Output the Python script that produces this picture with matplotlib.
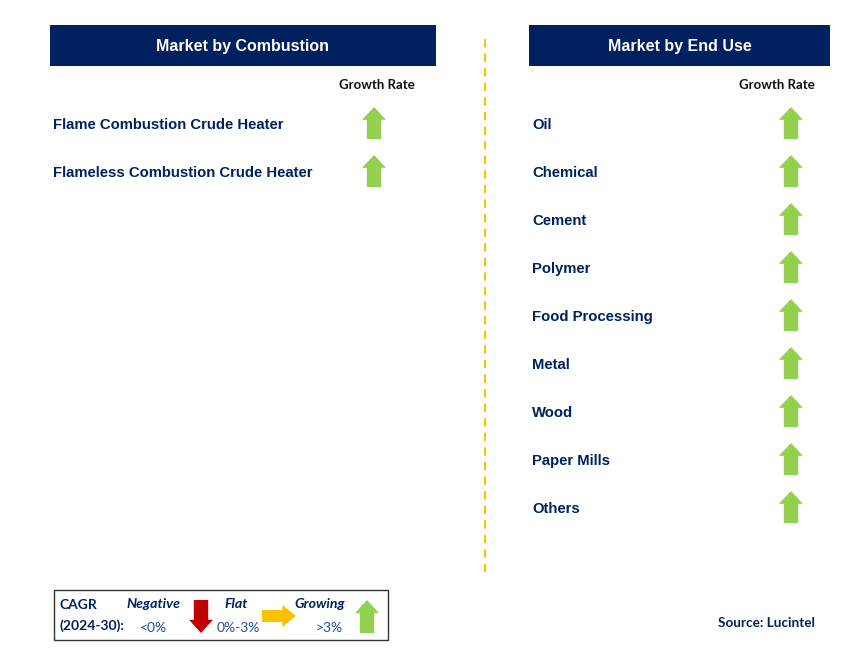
import matplotlib.pyplot as plt
from matplotlib.patches import Rectangle, Polygon

# segments and their growth class (all growing)
combustion = ['Flame Combustion Crude Heater', 'Flameless Combustion Crude Heater']
combustion_growth = ['up', 'up']
end_use = ['Oil', 'Chemical', 'Cement', 'Polymer', 'Food Processing',
           'Metal', 'Wood', 'Paper Mills', 'Others']
end_use_growth = ['up'] * 9

navy = '#002060'
green = '#92D050'
red = '#C00000'
yellow = '#FFC000'


def up_arrow(ax, xc, ytop, h=32, w=24, color=green):
    sh = w * 0.3
    hh = h * 0.4
    pts = [(xc, ytop), (xc + w / 2, ytop + hh), (xc + sh, ytop + hh),
           (xc + sh, ytop + h), (xc - sh, ytop + h), (xc - sh, ytop + hh),
           (xc - w / 2, ytop + hh)]
    ax.add_patch(Polygon(pts, closed=True, color=color, lw=0))


def down_arrow(ax, xc, ytop, h=32, w=24, color=red):
    sh = w * 0.3
    hh = h * 0.4
    yb = ytop + h
    pts = [(xc, yb), (xc + w / 2, yb - hh), (xc + sh, yb - hh),
           (xc + sh, ytop), (xc - sh, ytop), (xc - sh, yb - hh),
           (xc - w / 2, yb - hh)]
    ax.add_patch(Polygon(pts, closed=True, color=color, lw=0))


def right_arrow(ax, xl, yc, w=34, h=22, color=yellow):
    sh = h * 0.27
    hw = w * 0.4
    xr = xl + w
    pts = [(xr, yc), (xr - hw, yc - h / 2), (xr - hw, yc - sh), (xl, yc - sh),
           (xl, yc + sh), (xr - hw, yc + sh), (xr - hw, yc + h / 2)]
    ax.add_patch(Polygon(pts, closed=True, color=color, lw=0))


fig = plt.figure(figsize=(8.6, 6.6), dpi=100)
ax = fig.add_axes([0, 0, 1, 1])
ax.set_xlim(0, 860)
ax.set_ylim(660, 0)
ax.axis('off')

lab_font = 'Liberation Sans'
cal_font = 'Lato'

# headers
ax.add_patch(Rectangle((50, 25), 386, 41, color=navy, lw=0))
ax.text(243, 46, 'Market by Combustion', color='white', fontsize=11.5,
        fontweight='bold', ha='center', va='center', family=lab_font)
ax.add_patch(Rectangle((529, 25), 301, 41, color=navy, lw=0))
ax.text(679.5, 46, 'Market by End Use', color='white', fontsize=11.5,
        fontweight='bold', ha='center', va='center', family=lab_font)

ax.text(377, 85, 'Growth Rate', fontsize=9.5, fontweight='bold', ha='center',
        va='center', family=cal_font, color='#111111')
ax.text(777, 85, 'Growth Rate', fontsize=9.5, fontweight='bold', ha='center',
        va='center', family=cal_font, color='#111111')

# divider
ax.plot([485, 485], [39, 578], color=yellow, lw=1.5, ls=(0, (4, 3)))

y0, dy = 125, 48
for i, (name, g) in enumerate(zip(combustion, combustion_growth)):
    y = y0 + i * dy
    ax.text(53, y, name, color=navy, fontsize=10.7, fontweight='bold',
            va='center', family=lab_font)
    up_arrow(ax, 374, y - 18)

for i, (name, g) in enumerate(zip(end_use, end_use_growth)):
    y = y0 + i * dy
    ax.text(532, y, name, color=navy, fontsize=10.7, fontweight='bold',
            va='center', family=lab_font)
    up_arrow(ax, 791, y - 18)

# legend box
ax.add_patch(Rectangle((54, 590), 334, 50, fill=False, ec='#333333', lw=1))
ax.text(60, 605, 'CAGR', color=navy, fontsize=10, fontweight='bold',
        va='center', family=cal_font)
ax.text(60, 626, '(2024-30):', color=navy, fontsize=10, fontweight='bold',
        va='center', family=cal_font)
ax.text(153, 604, 'Negative', color=navy, fontsize=10.2, fontweight='bold',
        style='italic', ha='center', va='center', family=cal_font)
ax.text(153, 628, '<0%', color='#1F4E9A', fontsize=10, ha='center',
        va='center', family=cal_font)
down_arrow(ax, 201, 600, h=33, w=24)
ax.text(236, 604, 'Flat', color=navy, fontsize=10.2, fontweight='bold',
        style='italic', ha='center', va='center', family=cal_font)
ax.text(238, 628, '0%-3%', color='#1F4E9A', fontsize=10, ha='center',
        va='center', family=cal_font)
right_arrow(ax, 262, 616, w=34, h=22)
ax.text(320, 604, 'Growing', color=navy, fontsize=10.2, fontweight='bold',
        style='italic', ha='center', va='center', family=cal_font)
ax.text(329, 628, '>3%', color='#1F4E9A', fontsize=10, ha='center',
        va='center', family=cal_font)
up_arrow(ax, 367, 600, h=33, w=24)

ax.text(815, 623, 'Source: Lucintel', color=navy, fontsize=9.7,
        fontweight='bold', ha='right', va='center', family=cal_font)

fig.savefig('out.png', dpi=100)
